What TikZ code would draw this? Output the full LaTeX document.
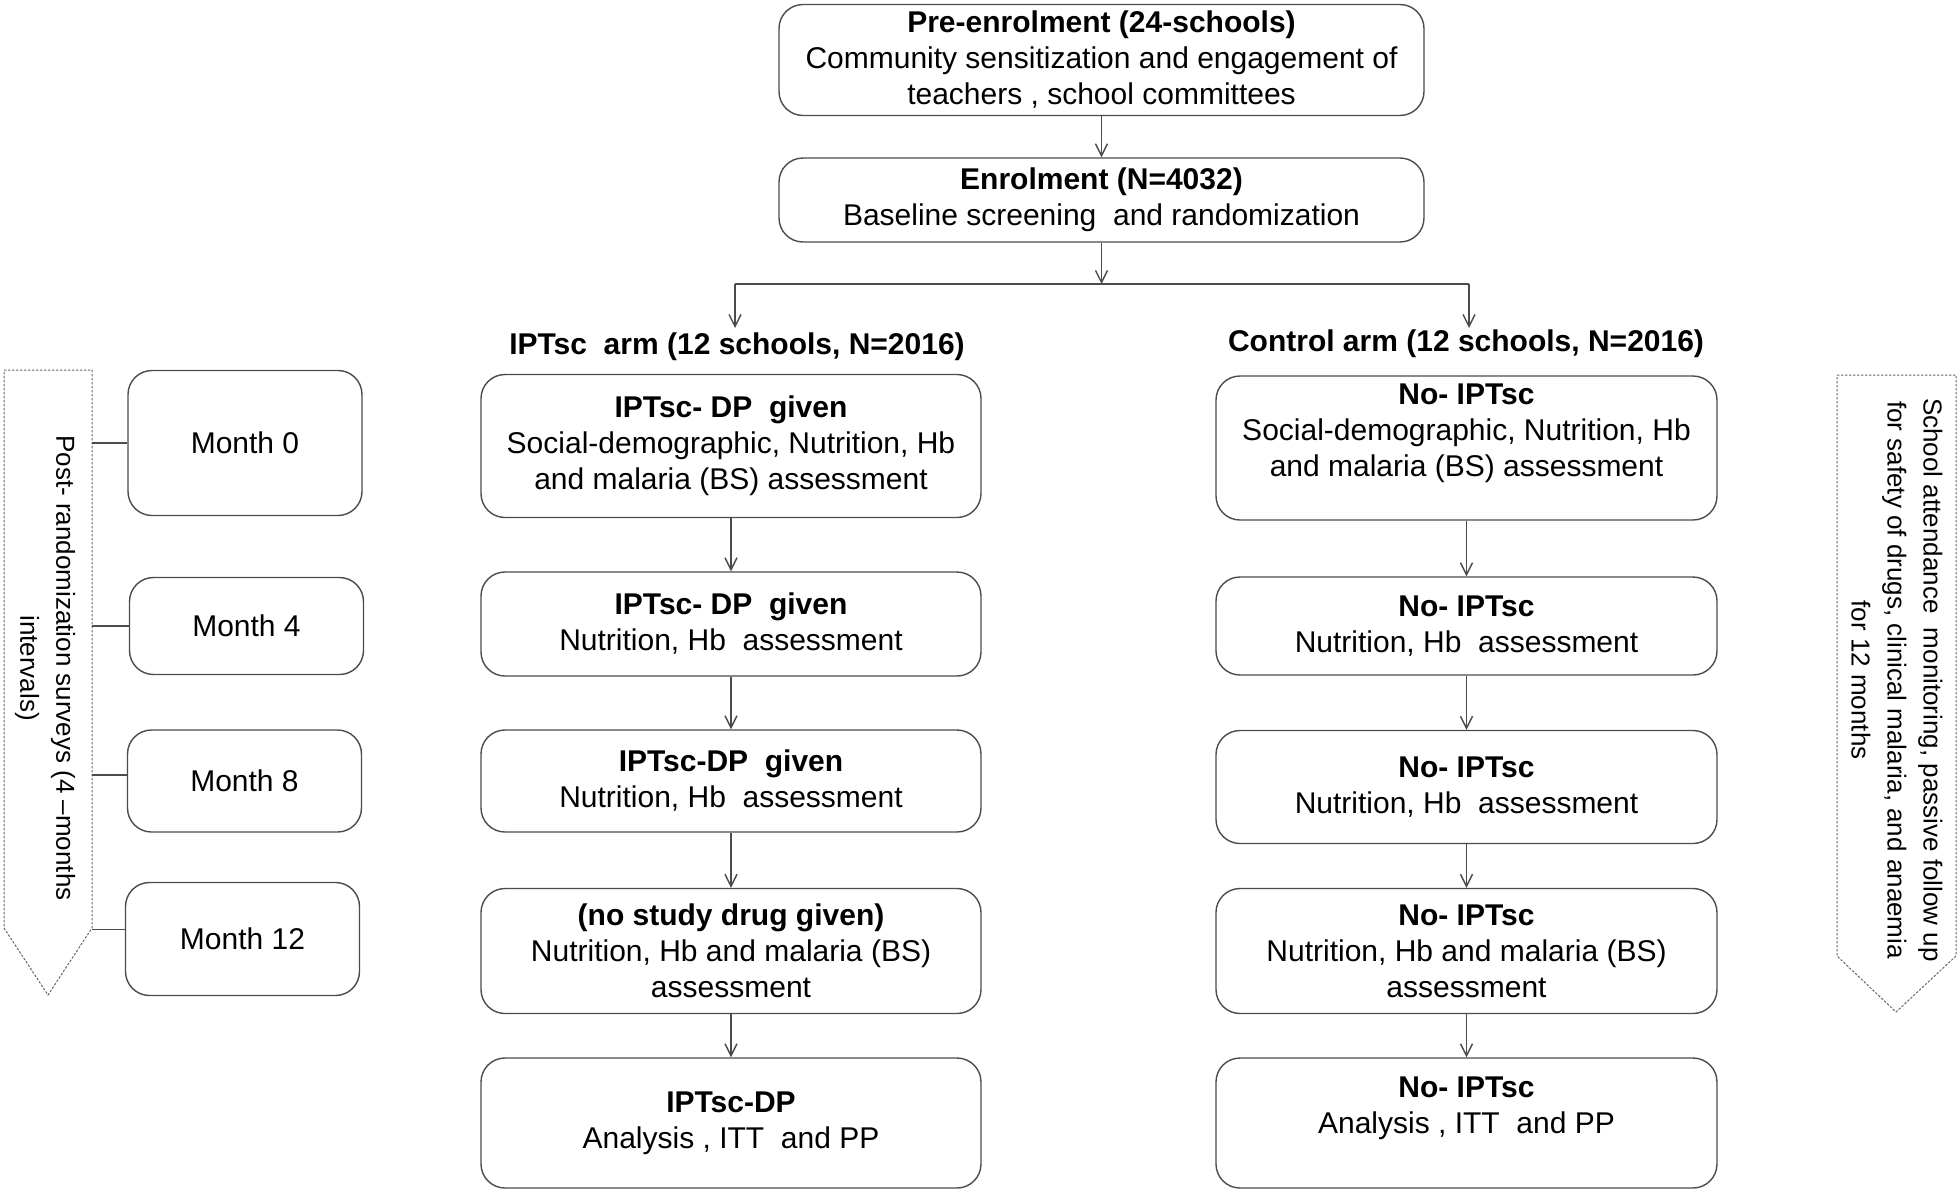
\documentclass[tikz,border=0pt]{standalone}
\usepackage{fontspec}
\setmainfont{Liberation Sans}
\usetikzlibrary{arrows.meta}
\begin{document}
\begin{tikzpicture}[x=0.5pt,y=-0.5pt,
  box/.style={draw=black!70, line width=0.7pt, rounded corners=12pt, align=center, inner sep=0pt, font=\fontsize{15}{18}\selectfont},
  mbox/.style={box, minimum width=117pt},
  lbox/.style={box, minimum width=250pt},
  rbox/.style={box, minimum width=250.5pt},
  head/.style={font=\fontsize{15}{18}\selectfont\bfseries, inner sep=0pt},
  conn/.style={draw=black!70, line width=0.7pt, -{Straight Barb[length=6pt,width=6pt]}},
  plain/.style={draw=black!70, line width=0.7pt},
  dashbox/.style={draw=black!60, line width=0.5pt, dash pattern=on 1.2pt off 0.8pt},
  vtext/.style={rotate=-90, align=center, inner sep=0pt, font=\fontsize{13}{18}\selectfont}]
\fill[white] (0,0) rectangle (1960,1194);
\useasboundingbox (0,0) rectangle (1960,1194);

% top
\node[box, minimum width=322.5pt, minimum height=55.5pt] (pre) at (1101.5,60)
  {\textbf{Pre-enrolment (24-schools)}\\Community sensitization and engagement of\\teachers , school committees};
\node[box, minimum width=322.5pt, minimum height=42pt] (enr) at (1101.5,200)
  {\textbf{Enrolment (N=4032)}\\Baseline screening\ \ and randomization};
\draw[conn] (pre.south) -- (enr.north);

\coordinate (split) at (1101.5,284);
\coordinate (sL) at (735,284);
\coordinate (sR) at (1469,284);
\coordinate (aL) at (735,328);
\coordinate (aR) at (1469,328);
\draw[conn] (enr.south) -- (split);
\draw[plain] (sL) -- (sR);
\draw[conn] (sL) -- (aL);
\draw[conn] (sR) -- (aR);

\node[head] (hL) at (737,347) {IPTsc\ \ arm (12 schools, N=2016)};
\node[head] (hR) at (1466,344) {Control arm (12 schools, N=2016)};

% left column
\node[lbox, minimum height=71.5pt] (b1) at (731,446)
  {\textbf{IPTsc- DP\ \ given}\\Social-demographic, Nutrition, Hb\\and malaria (BS) assessment};
\node[lbox, minimum height=52pt] (b2) at (731,624)
  {\textbf{IPTsc- DP\ \ given}\\Nutrition, Hb\ \ assessment};
\node[lbox, minimum height=51pt] (b3) at (731,781)
  {\textbf{IPTsc-DP\ \ given}\\Nutrition, Hb\ \ assessment};
\node[lbox, minimum height=62.5pt] (b4) at (731,951)
  {\textbf{(no study drug given)}\\Nutrition, Hb and malaria (BS)\\assessment};
\node[lbox, minimum height=65pt] (b5) at (731,1123)
  {\textbf{IPTsc-DP}\\Analysis , ITT\ \ and PP};
\draw[conn] (b1.south) -- (b2.north);
\draw[conn] (b2.south) -- (b3.north);
\draw[conn] (b3.south) -- (b4.north);
\draw[conn] (b4.south) -- (b5.north);

% right column
\node[rbox, minimum height=72pt] (c1) at (1466.5,448)
  {\textbf{No- IPTsc}\\Social-demographic, Nutrition, Hb\\and malaria (BS) assessment\\\mbox{}};
\node[rbox, minimum height=49pt] (c2) at (1466.5,626)
  {\textbf{No- IPTsc}\\Nutrition, Hb\ \ assessment};
\node[rbox, minimum height=56.5pt] (c3) at (1466.5,787)
  {\textbf{No- IPTsc}\\Nutrition, Hb\ \ assessment};
\node[rbox, minimum height=62.5pt] (c4) at (1466.5,951)
  {\textbf{No- IPTsc}\\Nutrition, Hb and malaria (BS)\\assessment};
\node[rbox, minimum height=65pt] (c5) at (1466.5,1123)
  {\textbf{No- IPTsc}\\Analysis , ITT\ \ and PP\\\mbox{}};
\draw[conn] (c1.south) -- (c2.north);
\draw[conn] (c2.south) -- (c3.north);
\draw[conn] (c3.south) -- (c4.north);
\draw[conn] (c4.south) -- (c5.north);

% month boxes
\node[mbox, minimum height=72.5pt] (m0) at (245,443) {Month 0};
\node[mbox, minimum height=48.5pt] (m4) at (246.5,626) {Month 4};
\node[mbox, minimum height=51pt] (m8) at (244.5,781) {Month 8};
\node[mbox, minimum height=56.5pt] (m12) at (242.5,939) {Month 12};

% left block arrow
\draw[dashbox] (4,370) -- (92,370) -- (92,928) -- (48,995) -- (4,928) -- cycle;
\coordinate (laE) at (92,0);
\node[vtext] (lt) at (45,668) {Post- randomization surveys (4 --months\\intervals)};
\draw[plain] (m0.west) -- (m0.west -| laE);
\draw[plain] (m4.west) -- (m4.west -| laE);
\draw[plain] ([yshift=3pt]m8.west) -- ([yshift=3pt]m8.west -| laE);
\draw[plain] ([yshift=4.75pt]m12.west) -- ([yshift=4.75pt]m12.west -| laE);

% right block arrow
\draw[dashbox] (1837,375) -- (1956,375) -- (1956,956) -- (1896,1012) -- (1837,956) -- cycle;
\node[vtext] (rt) at (1897,680) {School attendance\ \ monitoring, passive follow up\\for safety of drugs, clinical malaria, and anaemia\\for 12 months};
\end{tikzpicture}
\end{document}
